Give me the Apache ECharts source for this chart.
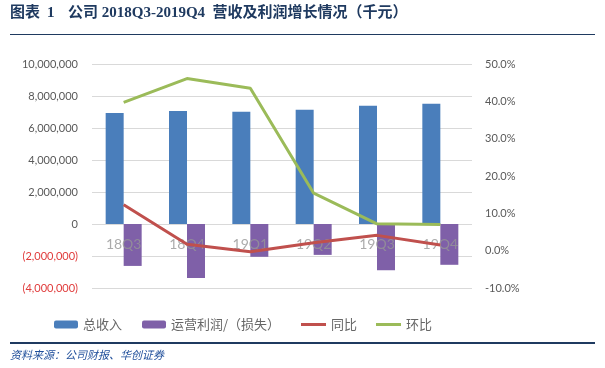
<!DOCTYPE html>
<html><head><meta charset="utf-8">
<script src="https://cdn.jsdelivr.net/npm/echarts@6/dist/echarts.min.js"></script>
<style>html,body{margin:0;padding:0;background:#fff}#c{width:605px;height:368px}</style>
</head><body><div id="c"></div>
<script>
var categories = ['18Q3','18Q4','19Q1','19Q2','19Q3','19Q4'];
var revenue = [6940000, 7070000, 7010000, 7140000, 7390000, 7510000];
var opProfit = [-2620000, -3370000, -2050000, -1930000, -2890000, -2550000];
var yoy = [12.3, 1.7, -0.3, 2.1, 4.1, 1.5];
var qoq = [39.7, 46.1, 43.5, 15.4, 7.2, 7.0];
var leftTicks = {min: -4000000, max: 10000000, interval: 2000000};
var rightTicks = {min: -10, max: 50, interval: 10};

function fmtNum(v){ return String(Math.round(v)).replace(/\B(?=(\d{3})+(?!\d))/g, ','); }

var chart = echarts.init(document.getElementById('c'));
var labelFont = 'Lato, "Noto Sans CJK SC", sans-serif';
var cjk = '"Noto Sans CJK SC", sans-serif';
var titleFont = 'bold 15px "Liberation Serif", "Noto Sans CJK SC", serif';
var navy = '#1f3a60';
chart.setOption({
  animation: false,
  backgroundColor: '#fff',
  grid: {left: 92, right: 133, top: 64, bottom: 80, containLabel: false},
  graphic: [
    {type: 'text', left: 10, top: 6, style: {text: '图表', fill: navy, font: titleFont}},
    {type: 'text', left: 47, top: 6, style: {text: '1', fill: navy, font: titleFont}},
    {type: 'text', left: 68, top: 6, style: {text: '公司 2018Q3-2019Q4  营收及利润增长情况（千元）', fill: navy, font: titleFont}},
    {type: 'rect', shape: {x: 10, y: 34, width: 585, height: 1}, style: {fill: navy}},
    {type: 'rect', shape: {x: 10, y: 342, width: 585, height: 2}, style: {fill: navy}},
    {type: 'text', left: 10, top: 349, style: {text: '资料来源：公司财报、华创证券', fill: '#1f4e9a', font: 'italic 11px "Noto Sans CJK SC", sans-serif'}}
  ],
  legend: [
    {data: ['总收入', '运营利润/（损失）'], left: 49, top: 313, itemWidth: 24, itemHeight: 8, itemGap: 20,
     textStyle: {color: '#666', fontSize: 13, fontFamily: cjk}},
    {data: [{name: '同比', icon: 'rect'}, {name: '环比', icon: 'rect'}], left: 296, top: 313, itemWidth: 25, itemHeight: 3, itemGap: 19,
     textStyle: {color: '#666', fontSize: 13, fontFamily: cjk}}
  ],
  xAxis: {
    type: 'category', data: categories,
    axisLine: {show: false, onZero: false},
    axisTick: {show: false},
    axisLabel: {show: false}
  },
  yAxis: [
    {type: 'value', min: leftTicks.min, max: leftTicks.max, interval: leftTicks.interval,
     axisLine: {show: false}, axisTick: {show: false},
     splitLine: {lineStyle: {color: '#d9d9d9'}},
     axisLabel: {fontSize: 11, fontFamily: labelFont, color: '#595959', margin: 14,
       formatter: function(v){ return v < 0 ? '{neg|(' + fmtNum(-v) + ')}' : fmtNum(v); },
       rich: {neg: {color: '#e03c3c', fontSize: 11, fontFamily: labelFont}}}},
    {type: 'value', min: rightTicks.min, max: rightTicks.max, interval: rightTicks.interval,
     axisLine: {show: false}, axisTick: {show: false}, splitLine: {show: false},
     axisLabel: {fontSize: 11, fontFamily: labelFont, color: '#595959', margin: 13,
       formatter: function(v){ return v.toFixed(1) + '%'; }}}
  ],
  series: [
    {name: '总收入', type: 'bar', data: revenue, barWidth: 18, barGap: '0%', itemStyle: {color: '#4a7ebb'}},
    {name: '运营利润/（损失）', type: 'bar', data: opProfit, barWidth: 18, barGap: '0%', itemStyle: {color: '#7f60a8'}},
    {name: '同比', type: 'line', yAxisIndex: 1, data: yoy, showSymbol: false, symbol: 'none', lineStyle: {width: 3, color: '#c0504d'}, itemStyle: {color: '#c0504d'}, z: 4},
    {name: '环比', type: 'line', yAxisIndex: 1, data: qoq, showSymbol: false, symbol: 'none', lineStyle: {width: 3, color: '#9bbb59'}, itemStyle: {color: '#9bbb59'}, z: 4},
    {name: 'categoryLabels', type: 'scatter', silent: true, z: 3, symbolSize: 0,
     data: categories.map(function(c){ return [c, 0]; }),
     label: {show: true, position: 'bottom', distance: 13, formatter: function(p){ return p.value[0]; },
       color: '#969696', fontSize: 14, fontFamily: labelFont}}
  ]
});
</script></body></html>
